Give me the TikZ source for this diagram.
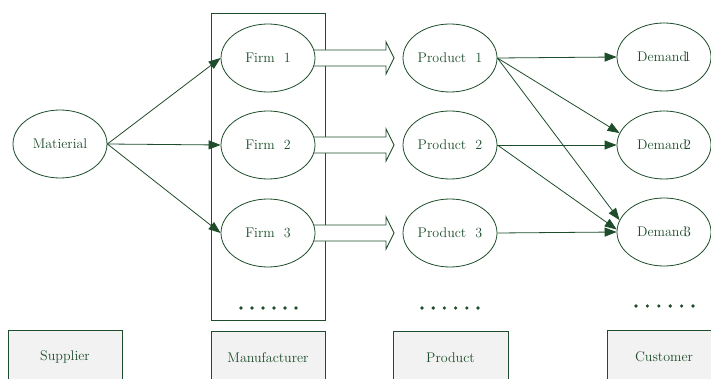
\documentclass[tikz,border=0pt]{standalone}
\usetikzlibrary{arrows.meta,calc,shapes.geometric}
\definecolor{ink}{HTML}{1E4D2B}
\definecolor{boxfill}{HTML}{F2F2F2}
\begin{document}
\begin{tikzpicture}[x=1pt,y=-1pt,
  every node/.style={font=\fontsize{14}{16}\selectfont, text=ink},
  oval/.style={ellipse, draw=ink, line width=0.8pt, fill=white,
    minimum width=94pt, minimum height=68pt, inner sep=0pt},
  frame/.style={draw=ink, line width=0.8pt},
  labelbox/.style={rectangle, draw=ink, line width=0.8pt, fill=boxfill,
    minimum width=114pt, minimum height=54pt, inner sep=0pt},
  flow/.style={draw=ink, line width=0.8pt, -{Triangle[length=12pt,width=9pt]}},
  hollow/.style={draw=ink, line width=0.9pt, fill=white},
  dot/.style={fill=ink, draw=none}]
\clip (0,0) rectangle (711,379);
\fill[white] (0,0) rectangle (711,379);

% manufacturer frame
\node[frame, minimum width=114pt, minimum height=307pt, inner sep=0pt] (mfg) at (268,166.5) {};

% node positions
\coordinate (pf1) at (268,58);
\coordinate (pf2) at (268,145);
\coordinate (pf3) at (268,233);
\coordinate (pp1) at (450,58);
\coordinate (pp2) at (450,145);
\coordinate (pp3) at (450,233);

% hollow block arrows firm -> product
\foreach \i in {1,2,3}{
  \draw[hollow] ($(pf\i)+(40,-8)$) -- ($(pp\i)+(-64,-8)$) -- ($(pp\i)+(-64,-16)$)
    -- ($(pp\i)+(-56,0)$) -- ($(pp\i)+(-64,16)$) -- ($(pp\i)+(-64,8)$) -- ($(pf\i)+(40,8)$);
}

% ovals
\node[oval] (mat) at (60,144) {Matierial};
\node[oval] (f1) at (pf1) {Firm~~1};
\node[oval] (f2) at (pf2) {Firm~~2};
\node[oval] (f3) at (pf3) {Firm~~3};
\node[oval] (p1) at (pp1) {Product~~1};
\node[oval] (p2) at (pp2) {Product~~2};
\node[oval] (p3) at (pp3) {Product~~3};
\node[oval] (d1) at (664,57) {Demand\kern-3pt 1};
\node[oval] (d2) at (664,145) {Demand\kern-3pt 2};
\node[oval] (d3) at (664,232) {Demand\kern-3pt 3};

% supplier to firms
\draw[flow] (mat.east) -- (f1.west);
\draw[flow] (mat.east) -- (f2.west);
\draw[flow] (mat.east) -- (f3.west);

% products to demands
\draw[flow] (p1.east) -- (d1.west);
\draw[flow] (p1.east) -- (d2.165);
\draw[flow] (p1.east) -- (d3.165);
\draw[flow] (p2.east) -- (d2.west);
\draw[flow] (p2.east) -- (d3.177);
\draw[flow] (p3.east) -- (d3.west);

% ellipsis dots
\foreach \k in {0,...,5}{
  \fill[dot] (241+11*\k,308) circle (1.8);
  \fill[dot] (422+11.2*\k,308) circle (1.8);
  \fill[dot] (636+11.4*\k,306) circle (1.8);
}

% layer labels
\node[labelbox] (sup) at (65,357) {Supplier};
\node[labelbox] (man) at (268,358) {Manufacturer};
\node[labelbox, minimum width=115pt] (prd) at (450.5,358) {Product};
\node[labelbox] (cus) at (664,357) {Customer};
\end{tikzpicture}
\end{document}
